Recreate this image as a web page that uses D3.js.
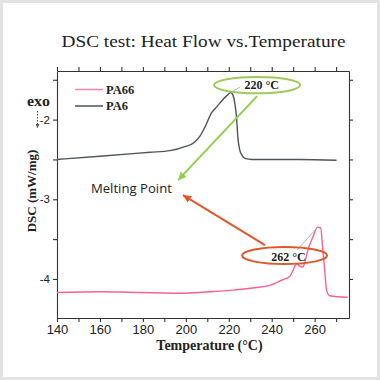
<!DOCTYPE html>
<html><head><meta charset="utf-8">
<script src="https://cdn.jsdelivr.net/npm/d3@7"></script>
<style>html,body{margin:0;padding:0;background:#fff}svg{display:block}</style>
</head><body>
<script>
// ---- data ----
const pa6T = [140,160,183.3,192.6,199.5,204.2,206.5,208.8,212.1,214.4,217.2,219.5,220.9,221.9,222.8,223.7,224.2,225.1,226,227.9,230.7,253,270.2];
const pa6V = [-2.50,-2.46,-2.41,-2.39,-2.34,-2.28,-2.21,-2.10,-1.91,-1.84,-1.75,-1.69,-1.66,-1.69,-1.79,-2.00,-2.21,-2.38,-2.44,-2.49,-2.50,-2.50,-2.51];
const pa66T = [140,160,197.2,211.2,221.9,232.1,239.1,245.1,248.4,249.8,251.6,253,254.4,255.3,256.7,259.1,261.4,262.8,263.7,264.7,265.6,267,275.4];
const pa66V = [-4.17,-4.16,-4.18,-4.16,-4.14,-4.11,-4.08,-4.01,-3.97,-3.90,-3.81,-3.84,-3.85,-3.81,-3.65,-3.48,-3.35,-3.36,-3.60,-3.90,-4.15,-4.21,-4.23];
const seriesNames = ["PA66","PA6"];
const xTicks = [140,160,180,200,220,240,260];
const yTicks = [-2,-3,-4];
const titleText = "DSC test: Heat Flow vs.Temperature";
const xLabel = "Temperature (°C)";
const yLabel = "DSC (mW/mg)";
const peakLabels = ["220 °C","262 °C"];
const noteText = "Melting Point";

const W=380,H=380;
const svg=d3.select("body").append("svg").attr("width",W).attr("height",H);
svg.append("rect").attr("width",W).attr("height",H).attr("fill","#e3e3e3");
svg.append("rect").attr("x",3).attr("y",3).attr("width",374).attr("height",374).attr("fill","#fff");

const x=d3.scaleLinear().domain([140,276]).range([57,349]);
const y=d3.scaleLinear().domain([-4.49,-1.39]).range([318,71]);
const axisCol="#333";

const defs=svg.append("defs");
function marker(id,col){
  defs.append("marker").attr("id",id).attr("viewBox","0 0 10 10").attr("refX",10).attr("refY",5)
    .attr("markerWidth",4).attr("markerHeight",4).attr("markerUnits","strokeWidth").attr("orient","auto")
    .append("path").attr("d","M0,0L10,5L0,10z").attr("fill",col);
}
marker("mg","#92cf4c"); marker("mo","#e0582a"); marker("mk","#555");

// title
svg.append("text").attr("x",61.5).attr("y",47.3).attr("textLength",284).attr("lengthAdjust","spacingAndGlyphs")
  .attr("font-family","Liberation Serif").attr("font-size",17.5).attr("fill","#222").text(titleText);

// axes
function styleAxis(g){g.selectAll("path,line").attr("stroke",axisCol).attr("stroke-width",1.1); g.selectAll("text").remove();}
const minorX=d3.range(140,277,10), minorY=d3.range(-4.5,-1.39,0.5).filter(v=>v>=-4.49);
const gb=svg.append("g").attr("transform","translate(0,318)")
  .call(d3.axisBottom(x).tickValues(minorX).tickSize(4).tickSizeOuter(0).tickFormat(""));
gb.call(styleAxis);
const gbl=svg.append("g").attr("transform","translate(0,318)")
  .call(d3.axisBottom(x).tickValues(xTicks).tickSize(0).tickPadding(7).tickFormat(d=>d));
gbl.select(".domain").remove();
gbl.selectAll("text").attr("font-family","Liberation Sans").attr("font-size",13).attr("fill","#222");
const gt=svg.append("g").attr("transform","translate(0,71)")
  .call(d3.axisTop(x).tickValues(minorX).tickSize(4).tickSizeOuter(0).tickFormat(""));
gt.call(styleAxis);
const gl=svg.append("g").attr("transform","translate(57,0)")
  .call(d3.axisLeft(y).tickValues(minorY).tickSize(4).tickSizeOuter(0).tickFormat(""));
gl.call(styleAxis);
const gll=svg.append("g").attr("transform","translate(57,0)")
  .call(d3.axisLeft(y).tickValues(yTicks).tickSize(0).tickPadding(7).tickFormat(d=>String(d)));
gll.select(".domain").remove();
gll.selectAll("text").attr("font-family","Liberation Sans").attr("font-size",11.5).attr("fill","#222");
const gr=svg.append("g").attr("transform","translate(349,0)")
  .call(d3.axisRight(y).tickValues(minorY).tickSize(4).tickSizeOuter(0).tickFormat(""));
gr.call(styleAxis);

// axis labels
svg.append("text").attr("x",209.5).attr("y",350).attr("text-anchor","middle")
  .attr("font-family","Liberation Serif").attr("font-weight","bold").attr("font-size",14).attr("fill","#222").text(xLabel);
svg.append("text").attr("transform","translate(36,191) rotate(-90)").attr("text-anchor","middle")
  .attr("font-family","Liberation Serif").attr("font-weight","bold").attr("font-size",13).attr("fill","#222").text(yLabel);
svg.append("text").attr("x",27).attr("y",106).attr("textLength",23).attr("lengthAdjust","spacingAndGlyphs")
  .attr("font-family","Liberation Serif").attr("font-weight","bold").attr("font-size",15).attr("fill","#222").text("exo");
svg.append("line").attr("x1",37.5).attr("y1",111).attr("x2",37.5).attr("y2",128)
  .attr("stroke","#444").attr("stroke-width",1).attr("stroke-dasharray","1.5,1.5").attr("marker-end","url(#mk)");

// curves
const line=d3.line().x(d=>x(d[0])).y(d=>y(d[1])).curve(d3.curveMonotoneX);
const pinkCol="#ff5f93", grayCol="#4f555a";
svg.append("path").datum(pa6T.map((t,i)=>[t,pa6V[i]])).attr("d",line)
  .attr("fill","none").attr("stroke",grayCol).attr("stroke-width",1.4);
svg.append("path").datum(pa66T.map((t,i)=>[t,pa66V[i]])).attr("d",line)
  .attr("fill","none").attr("stroke",pinkCol).attr("stroke-width",1.4);

// legend
const legCols=["#ff7fa6",grayCol];
seriesNames.forEach((n,i)=>{
  const ly=89.5+i*16.5;
  svg.append("line").attr("x1",75).attr("x2",103).attr("y1",ly).attr("y2",ly).attr("stroke",legCols[i]).attr("stroke-width",1.5);
  svg.append("text").attr("x",106).attr("y",ly+4).attr("font-family","Liberation Serif").attr("font-weight","bold")
    .attr("font-size",12.5).attr("fill","#222").text(n);
});

// annotations (data coords)
const gray2="#9aa3a8";
svg.append("line").attr("x1",x(225.2)).attr("y1",y(-1.592)).attr("x2",x(220.9)).attr("y2",y(-1.66)).attr("stroke",gray2).attr("stroke-width",0.8);
svg.append("ellipse").attr("cx",x(233.2)).attr("cy",y(-1.567)).attr("rx",43).attr("ry",8.2)
  .attr("fill","none").attr("stroke","#9ccc55").attr("stroke-width",2);
svg.append("text").attr("x",x(235.3)).attr("y",y(-1.62)).attr("text-anchor","middle").attr("font-family","Liberation Serif")
  .attr("font-weight","bold").attr("font-size",12).attr("fill","#222").text(peakLabels[0]);
svg.append("line").attr("x1",x(233.2)).attr("y1",y(-1.705)).attr("x2",x(196.4)).attr("y2",y(-2.76))
  .attr("stroke","#92cf4c").attr("stroke-width",2).attr("marker-end","url(#mg)");
svg.append("line").attr("x1",x(251.8)).attr("y1",y(-3.638)).attr("x2",x(261.4)).attr("y2",y(-3.35)).attr("stroke",gray2).attr("stroke-width",0.8);
svg.append("ellipse").attr("cx",x(246.0)).attr("cy",y(-3.707)).attr("rx",42.5).attr("ry",8.5)
  .attr("fill","none").attr("stroke","#e0582a").attr("stroke-width",2);
svg.append("text").attr("x",x(247.8)).attr("y",y(-3.776)).attr("text-anchor","middle").attr("font-family","Liberation Serif")
  .attr("font-weight","bold").attr("font-size",12).attr("fill","#222").text(peakLabels[1]);
svg.append("line").attr("x1",x(236.9)).attr("y1",y(-3.576)).attr("x2",x(198.7)).attr("y2",y(-2.948))
  .attr("stroke","#e0582a").attr("stroke-width",2).attr("marker-end","url(#mo)");
svg.append("text").attr("x",x(155.8)).attr("y",y(-2.923)).attr("textLength",81).attr("lengthAdjust","spacingAndGlyphs")
  .attr("font-family","Open Sans").attr("font-size",12.5).attr("fill","#222").text(noteText);
</script>
</body></html>
